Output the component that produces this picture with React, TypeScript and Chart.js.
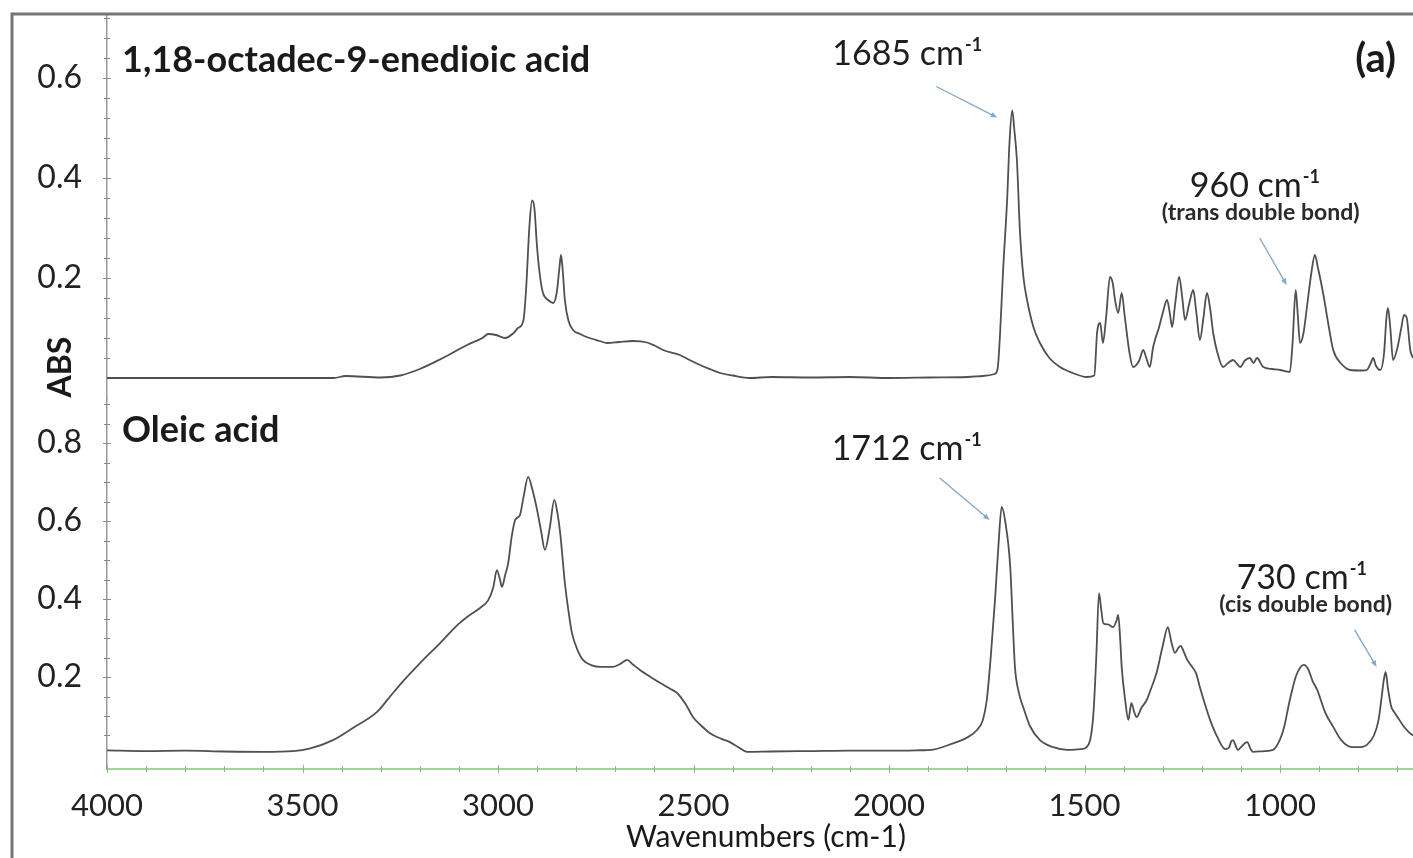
import { useEffect, useRef } from 'react';
import { Chart, registerables } from 'chart.js';

Chart.register(...registerables);

// Wavenumber axis (cm-1), plotted high to low
const X_MIN = 660;
const X_MAX = 4000;
const X_TICK_LABELS = [4000, 3500, 3000, 2500, 2000, 1500, 1000];

// Upper trace: 1,18-octadec-9-enedioic acid
const WN_DIACID = [
  4000, 3800, 3600, 3420, 3390, 3300, 3250, 3200, 3141, 3079, 3040, 3025, 3005, 2982, 2960, 2949,
  2935, 2928, 2920, 2913, 2907, 2900, 2892, 2885, 2870, 2859, 2850, 2843, 2839, 2835, 2829, 2820,
  2808, 2790, 2773, 2740, 2721, 2690, 2655, 2619, 2600, 2578, 2535, 2510, 2483, 2455, 2432, 2400,
  2356, 2300, 2200, 2100, 2000, 1900, 1800, 1760, 1730, 1722, 1716, 1708, 1698, 1692, 1685, 1680,
  1673, 1665, 1656, 1647, 1630, 1614, 1590, 1563, 1530, 1494, 1475, 1468, 1460, 1453, 1445, 1435,
  1428, 1422, 1414, 1405, 1397, 1385, 1376, 1360, 1350, 1342, 1333, 1325, 1320, 1310, 1300, 1289,
  1282, 1276, 1268, 1258, 1250, 1243, 1232, 1222, 1214, 1205, 1196, 1187, 1179, 1171, 1160, 1146,
  1133, 1120, 1110, 1102, 1090, 1077, 1068, 1059, 1043, 1020, 1000, 975, 968, 960, 955, 949,
  940, 930, 920, 911, 903, 890, 877, 864, 845, 820, 790, 778, 768, 762, 755, 744,
  734, 728, 724, 718, 711, 700, 690, 683, 676, 667, 660,
];
const ABS_DIACID = [
  0.0, 0.0, 0.0, 0.0, 0.004, 0.001, 0.005, 0.018, 0.04, 0.066, 0.08, 0.088, 0.086, 0.08, 0.09, 0.1,
  0.115, 0.18, 0.3, 0.355, 0.34, 0.26, 0.2, 0.17, 0.155, 0.15, 0.17, 0.22, 0.246, 0.22, 0.156, 0.115,
  0.096, 0.088, 0.082, 0.074, 0.07, 0.072, 0.074, 0.071, 0.065, 0.056, 0.046, 0.036, 0.026, 0.017, 0.01, 0.005,
  0.0, 0.002, 0.001, 0.002, 0.0, 0.001, 0.002, 0.004, 0.008, 0.02, 0.09, 0.22, 0.356, 0.47, 0.535, 0.5,
  0.436, 0.29, 0.2, 0.156, 0.1, 0.07, 0.04, 0.022, 0.01, 0.002, 0.005, 0.09, 0.11, 0.07, 0.12, 0.202,
  0.19, 0.156, 0.13, 0.17, 0.122, 0.05, 0.022, 0.035, 0.056, 0.04, 0.022, 0.06, 0.076, 0.1, 0.13, 0.156,
  0.13, 0.102, 0.15, 0.202, 0.16, 0.116, 0.15, 0.176, 0.13, 0.076, 0.12, 0.17, 0.14, 0.09, 0.05, 0.022,
  0.03, 0.036, 0.028, 0.022, 0.035, 0.04, 0.03, 0.04, 0.022, 0.018, 0.016, 0.012, 0.07, 0.176, 0.13, 0.07,
  0.09, 0.15, 0.21, 0.246, 0.22, 0.17, 0.11, 0.056, 0.03, 0.016, 0.015, 0.016, 0.03, 0.04, 0.025, 0.016,
  0.05, 0.12, 0.14, 0.1, 0.036, 0.06, 0.1, 0.126, 0.12, 0.056, 0.04,
];

// Lower trace: oleic acid
const WN_OLEIC = [
  4000, 3900, 3800, 3700, 3600, 3524, 3480, 3422, 3370, 3310, 3280, 3251, 3200, 3148, 3102, 3079,
  3046, 3025, 3012, 3003, 2995, 2990, 2982, 2974, 2965, 2956, 2944, 2935, 2923, 2912, 2900, 2890,
  2880, 2868, 2856, 2848, 2841, 2829, 2820, 2811, 2795, 2783, 2760, 2739, 2706, 2685, 2670, 2655,
  2637, 2610, 2586, 2560, 2542, 2520, 2501, 2480, 2458, 2430, 2407, 2385, 2363, 2300, 2200, 2100,
  2000, 1930, 1887, 1836, 1800, 1775, 1760, 1750, 1740, 1729, 1720, 1712, 1703, 1690, 1684, 1678,
  1668, 1657, 1640, 1614, 1580, 1545, 1510, 1494, 1478, 1470, 1463, 1457, 1452, 1440, 1427, 1418,
  1414, 1409, 1405, 1396, 1388, 1383, 1380, 1373, 1367, 1355, 1341, 1330, 1316, 1300, 1287, 1278,
  1269, 1260, 1254, 1248, 1238, 1225, 1215, 1205, 1192, 1179, 1160, 1140, 1130, 1125, 1120, 1114,
  1108, 1100, 1090, 1084, 1075, 1069, 1040, 1018, 1000, 990, 975, 960, 948, 939, 928, 917,
  905, 885, 864, 845, 820, 800, 778, 760, 748, 740, 735, 730, 724, 716, 708, 698,
  685, 672, 660,
];
const ABS_OLEIC = [
  0.012, 0.01, 0.011, 0.009, 0.008, 0.01, 0.017, 0.038, 0.07, 0.11, 0.145, 0.18, 0.235, 0.287, 0.335, 0.354,
  0.377, 0.397, 0.43, 0.474, 0.45, 0.431, 0.46, 0.492, 0.56, 0.603, 0.615, 0.66, 0.713, 0.68, 0.628, 0.575,
  0.526, 0.58, 0.654, 0.62, 0.569, 0.441, 0.37, 0.313, 0.265, 0.244, 0.23, 0.226, 0.226, 0.235, 0.244, 0.232,
  0.218, 0.2, 0.185, 0.17, 0.159, 0.13, 0.097, 0.075, 0.056, 0.042, 0.033, 0.02, 0.008, 0.009, 0.01, 0.011,
  0.011, 0.012, 0.014, 0.03, 0.045, 0.064, 0.09, 0.141, 0.25, 0.397, 0.54, 0.636, 0.6, 0.482, 0.35, 0.226,
  0.16, 0.123, 0.075, 0.038, 0.02, 0.013, 0.015, 0.021, 0.097, 0.25, 0.415, 0.37, 0.338, 0.335, 0.328, 0.345,
  0.359, 0.3, 0.226, 0.14, 0.09, 0.12, 0.133, 0.11, 0.097, 0.12, 0.141, 0.17, 0.21, 0.28, 0.328, 0.29,
  0.262, 0.275, 0.28, 0.269, 0.245, 0.226, 0.21, 0.174, 0.13, 0.09, 0.045, 0.015, 0.02, 0.035, 0.038, 0.025,
  0.013, 0.02, 0.03, 0.033, 0.015, 0.008, 0.01, 0.013, 0.04, 0.07, 0.141, 0.2, 0.225, 0.231, 0.22, 0.19,
  0.167, 0.11, 0.072, 0.04, 0.021, 0.02, 0.026, 0.05, 0.09, 0.15, 0.19, 0.213, 0.17, 0.125, 0.11, 0.095,
  0.075, 0.06, 0.05,
];

// Absorbance ticks for each panel
const DIACID_TICKS = [0.2, 0.4, 0.6];
const OLEIC_TICKS = [0.2, 0.4, 0.6, 0.8];

// Labelled bands
const BAND_SERIES = ['diacid', 'diacid', 'oleic', 'oleic'];
const BAND_WN = [1685, 960, 1712, 730];
const BAND_NOTE = ['', '(trans double bond)', '', '(cis double bond)'];

const FONT = 'Lato, "Open Sans", sans-serif';
const LINE_COLOR = '#505050';
const ARROW_COLOR = '#86a9c4';

function absAt(series: string, wn: number): number {
  const wns = series === 'diacid' ? WN_DIACID : WN_OLEIC;
  const vals = series === 'diacid' ? ABS_DIACID : ABS_OLEIC;
  return vals[wns.indexOf(wn)];
}

function drawArrow(ctx: CanvasRenderingContext2D, x1: number, y1: number, x2: number, y2: number) {
  const ang = Math.atan2(y2 - y1, x2 - x1);
  const head = 7;
  ctx.save();
  ctx.strokeStyle = ARROW_COLOR;
  ctx.fillStyle = ARROW_COLOR;
  ctx.lineWidth = 1.4;
  ctx.beginPath();
  ctx.moveTo(x1, y1);
  ctx.lineTo(x2 - Math.cos(ang) * head * 0.6, y2 - Math.sin(ang) * head * 0.6);
  ctx.stroke();
  ctx.beginPath();
  ctx.moveTo(x2, y2);
  ctx.lineTo(x2 - head * Math.cos(ang - 0.4), y2 - head * Math.sin(ang - 0.4));
  ctx.lineTo(x2 - head * Math.cos(ang + 0.4), y2 - head * Math.sin(ang + 0.4));
  ctx.closePath();
  ctx.fill();
  ctx.restore();
}

function drawBandLabel(ctx: CanvasRenderingContext2D, wn: number, left: number, baseline: number) {
  ctx.save();
  ctx.fillStyle = '#1e1e1e';
  ctx.textAlign = 'left';
  ctx.textBaseline = 'alphabetic';
  ctx.font = `34px ${FONT}`;
  const main = `${wn} cm`;
  ctx.fillText(main, left, baseline);
  const w = ctx.measureText(main).width;
  ctx.font = `bold 18px ${FONT}`;
  ctx.fillText('-1', left + w + 1, baseline - 14);
  ctx.restore();
}

const decorations = {
  id: 'decorations',
  afterDraw(chart: any) {
    const { ctx, scales, chartArea } = chart;
    const xs = scales.x;
    const yD = scales.yDiacid;
    const yO = scales.yOleic;
    ctx.save();

    // outer frame
    ctx.strokeStyle = '#767676';
    ctx.lineWidth = 3;
    ctx.strokeRect(12, 14, 1500, 900);

    // minor tick marks crossing the axes
    ctx.strokeStyle = '#8a8a8a';
    ctx.lineWidth = 1;
    const axisX = chartArea.left;
    const drawYTicks = (scale: any, step: number) => {
      for (let v = step; v <= scale.max + 1e-9; v += step) {
        const py = Math.round(scale.getPixelForValue(v)) + 0.5;
        const major = Math.abs(v / 0.2 - Math.round(v / 0.2)) < 1e-6;
        const len = major ? 4 : 3;
        ctx.beginPath();
        ctx.moveTo(axisX - len, py);
        ctx.lineTo(axisX + len, py);
        ctx.stroke();
      }
    };
    drawYTicks(yD, 0.04);
    drawYTicks(yO, 0.05);
    const axisY = chartArea.bottom;
    ctx.strokeStyle = '#8fb58a';
    for (let v = 700; v <= X_MAX; v += 100) {
      const px = Math.round(xs.getPixelForValue(v)) + 0.5;
      const len = v % 500 === 0 ? 4 : 3;
      ctx.beginPath();
      ctx.moveTo(px, axisY - len);
      ctx.lineTo(px, axisY + len);
      ctx.stroke();
    }

    // panel titles
    ctx.fillStyle = '#1a1a1a';
    ctx.textAlign = 'left';
    ctx.textBaseline = 'alphabetic';
    ctx.font = `bold 36px ${FONT}`;
    ctx.fillText('1,18-octadec-9-enedioic acid', 122, 72);
    ctx.fillText('Oleic acid', 122, 442);
    ctx.textAlign = 'right';
    ctx.font = `bold 40px ${FONT}`;
    ctx.fillText('(a)', 1396, 72);

    // axis titles
    ctx.save();
    ctx.translate(61, 367);
    ctx.rotate(-Math.PI / 2);
    ctx.textAlign = 'center';
    ctx.textBaseline = 'middle';
    ctx.font = `bold 32px ${FONT}`;
    ctx.fillText('ABS', 0, 0);
    ctx.restore();
    ctx.textAlign = 'center';
    ctx.textBaseline = 'middle';
    ctx.font = `30px ${FONT}`;
    ctx.fillText('Wavenumbers (cm-1)', 766, 837);

    // band annotations with arrows to the peaks
    BAND_WN.forEach((wn, i) => {
      const ys = BAND_SERIES[i] === 'diacid' ? yD : yO;
      const px = xs.getPixelForValue(wn);
      const py = ys.getPixelForValue(absAt(BAND_SERIES[i], wn));
      if (i === 0) {
        drawBandLabel(ctx, wn, px - 180, py - 46);
        drawArrow(ctx, px - 76, py - 24, px - 15, py + 7);
      } else if (i === 2) {
        drawBandLabel(ctx, wn, px - 170, py - 47);
        drawArrow(ctx, px - 62, py - 29, px - 12, py + 13);
      } else {
        const left = i === 1 ? px - 106 : px - 149;
        const base = i === 1 ? py - 93 : py - 83;
        drawBandLabel(ctx, wn, left, base);
        ctx.save();
        ctx.fillStyle = '#2a2a2a';
        ctx.textAlign = 'center';
        ctx.textBaseline = 'middle';
        ctx.font = `bold 23px ${FONT}`;
        const cx = i === 1 ? px - 35 : px - 80;
        ctx.fillText(BAND_NOTE[i], cx, base + 16);
        ctx.restore();
        drawArrow(ctx, px - (i === 1 ? 36 : 31), py - (i === 1 ? 52 : 42), px - 9, py - 5);
      }
    });

    ctx.restore();
  },
};

export default function App() {
  const canvasRef = useRef<HTMLCanvasElement | null>(null);

  useEffect(() => {
    const canvas = canvasRef.current;
    if (!canvas) return;

    const tickFont = { family: FONT, size: 32 };
    const yAxis = (min: number, max: number, weight: number, ticks: number[]) => ({
      type: 'linear' as const,
      position: 'left' as const,
      stack: 'abs',
      stackWeight: weight,
      min,
      max,
      afterFit: (s: any) => {
        s.width = 107;
        s.paddingTop = 0;
        s.paddingBottom = 0;
      },
      afterBuildTicks: (s: any) => {
        s.ticks = ticks.map((v) => ({ value: v }));
      },
      ticks: {
        padding: 25,
        color: '#222222',
        font: tickFont,
        callback: (v: any) => Number(v).toFixed(1),
      },
      grid: { display: false, drawTicks: false },
      border: { display: true, color: '#9a9a9a', width: 1.5 },
    });

    const chart = new Chart(canvas, {
      type: 'line',
      data: {
        datasets: [
          {
            label: '1,18-octadec-9-enedioic acid',
            data: WN_DIACID.map((x, i) => ({ x, y: ABS_DIACID[i] })),
            yAxisID: 'yDiacid',
            borderColor: LINE_COLOR,
            borderWidth: 1.8,
            pointRadius: 0,
            cubicInterpolationMode: 'monotone',
            fill: false,
          },
          {
            label: 'Oleic acid',
            data: WN_OLEIC.map((x, i) => ({ x, y: ABS_OLEIC[i] })),
            yAxisID: 'yOleic',
            borderColor: LINE_COLOR,
            borderWidth: 1.8,
            pointRadius: 0,
            cubicInterpolationMode: 'monotone',
            fill: false,
          },
        ],
      },
      options: {
        animation: false,
        responsive: false,
        devicePixelRatio: 1,
        layout: { padding: { top: 16, left: 0, right: 0, bottom: 0 } },
        plugins: {
          legend: { display: false },
          tooltip: { enabled: false },
        },
        scales: {
          x: {
            type: 'linear',
            reverse: true,
            min: X_MIN,
            max: X_MAX,
            afterFit: (s: any) => {
              s.height = 89;
              s.paddingLeft = 0;
              s.paddingRight = 0;
            },
            afterBuildTicks: (s: any) => {
              s.ticks = X_TICK_LABELS.map((v) => ({ value: v }));
            },
            ticks: {
              autoSkip: false,
              maxRotation: 0,
              padding: 18,
              color: '#222222',
              font: { family: FONT, size: 31 },
              callback: (v: any) => String(v),
            },
            grid: { display: false, drawTicks: false },
            border: { display: true, color: '#a6d19e', width: 2 },
          },
          yOleic: yAxis(-0.0359, 0.9154, 371, OLEIC_TICKS),
          yDiacid: yAxis(-0.04, 0.724, 382, DIACID_TICKS),
        },
      },
      plugins: [decorations],
    });

    return () => chart.destroy();
  }, []);

  return (
    <div style={{ position: 'fixed', left: 0, top: 0, width: 1413, height: 858, background: '#ffffff' }}>
      <canvas ref={canvasRef} width={1413} height={858} style={{ display: 'block' }} />
    </div>
  );
}
